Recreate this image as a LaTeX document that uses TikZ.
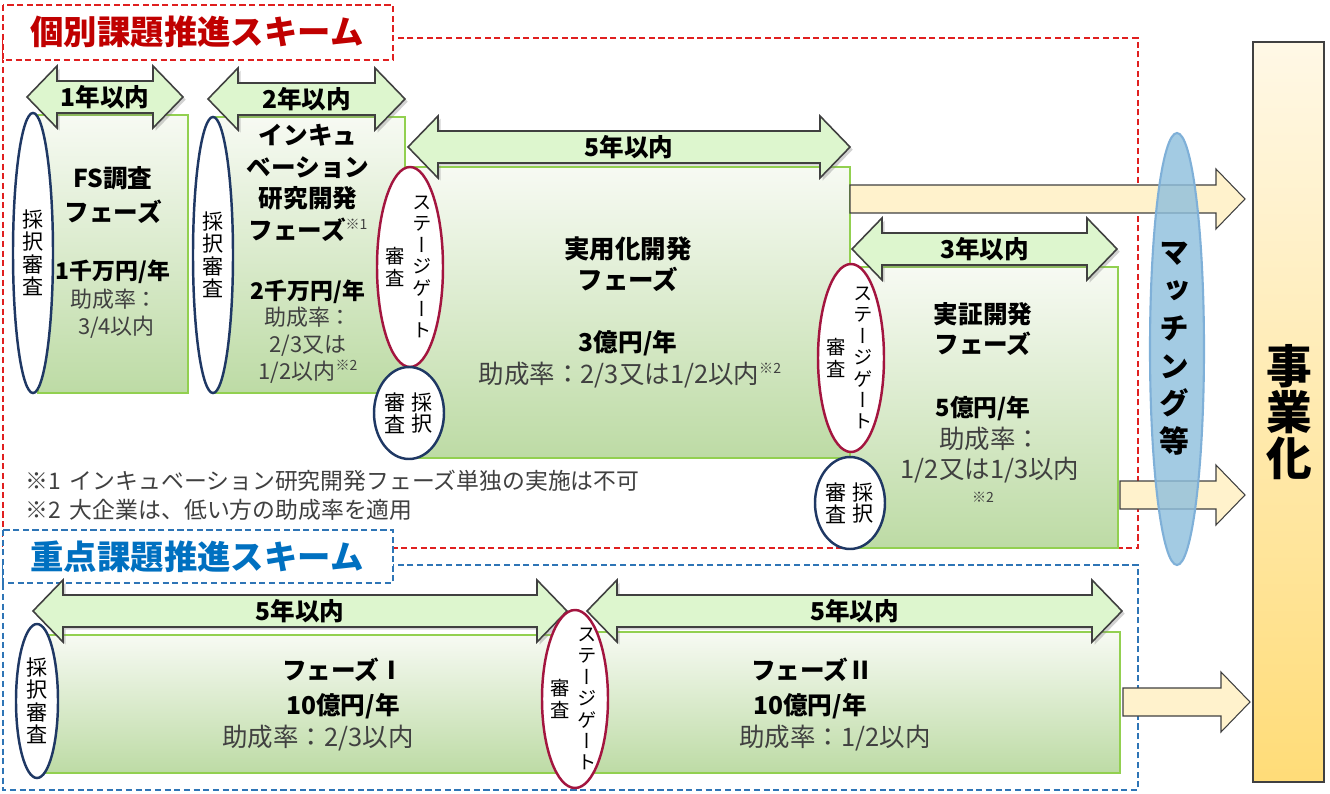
\documentclass[tikz,border=0pt]{standalone}
\usepackage{fontspec}
\setmainfont{Noto Sans CJK JP}
\newfontfamily\vfont[RawFeature=+vert]{Noto Sans CJK JP}
\usetikzlibrary{shadows}

\definecolor{redline}{HTML}{E02020}
\definecolor{redtitle}{HTML}{C00000}
\definecolor{blueline}{HTML}{2E75B6}
\definecolor{bluetitle}{HTML}{0070C0}
\definecolor{boxtop}{HTML}{F7FAF3}
\definecolor{boxbot}{HTML}{BDDBA5}
\definecolor{boxedge}{HTML}{92D050}
\definecolor{arrfill}{HTML}{DDF6CE}
\definecolor{arredge}{HTML}{404040}
\definecolor{yelfill}{HTML}{FFF2CC}
\definecolor{gatecol}{HTML}{A3153F}
\definecolor{admitcol}{HTML}{1F3864}
\definecolor{matchcol}{HTML}{8DBEDD}
\definecolor{matchedge}{HTML}{7FB0D8}
\definecolor{ratecol}{HTML}{404040}
\definecolor{bizTop}{HTML}{FFF8E6}
\definecolor{bizBot}{HTML}{FFDC78}

\newcommand{\notemark}[1]{\raisebox{0.75ex}{\fontsize{8}{8}\selectfont\mdseries\color{ratecol}#1}}

\tikzset{
  scheme/.style={dash pattern=on 3.5pt off 2pt, line width=0.7pt},
  phasebox/.style={draw=boxedge, line width=1.2pt, top color=boxtop, bottom color=boxbot},
  spanarrow/.style={draw=arredge, line width=0.9pt, fill=arrfill,
    drop shadow={opacity=0.35, shadow xshift=1.5pt, shadow yshift=-1.5pt}},
  flowarrow/.style={draw=arredge, line width=0.6pt, fill=yelfill},
  gate/.style={draw=gatecol, line width=1.4pt, fill=white},
  admit/.style={draw=admitcol, line width=1.4pt, fill=white},
  vlabel/.style={align=center, inner sep=0pt, font=\vfont\fontsize{11}{12.2}\selectfont},
  spanlabel/.style={inner sep=0pt, font=\bfseries\fontsize{14}{16}\selectfont},
  phasetitle/.style={align=center, inner sep=0pt, font=\bfseries\fontsize{14}{19}\selectfont},
  amount/.style={inner sep=0pt, font=\bfseries\fontsize{13}{15}\selectfont},
  rate/.style={align=center, inner sep=0pt, text=ratecol, font=\fontsize{12.5}{15.3}\selectfont},
  note/.style={anchor=west, inner sep=0pt, text=ratecol, font=\fontsize{13}{15}\selectfont}
}

\begin{document}
\begin{tikzpicture}[x=0.02cm, y=-0.02cm]
  \useasboundingbox[fill=white] (0,0) rectangle (1330,794);

  % scheme frames
  \draw[scheme, redline] (3,38) rectangle (1138,548);
  \draw[scheme, blueline] (3,565) rectangle (1138,790);
  \draw[scheme, redline, fill=white] (3,5) rectangle (393,60);
  \draw[scheme, blueline, fill=white] (3,530) rectangle (393,583);
  \node[text=redtitle, font=\bfseries\fontsize{19}{21}\selectfont] (titleA) at (197,32) {個別課題推進スキーム};
  \node[text=bluetitle, font=\bfseries\fontsize{19}{21}\selectfont] (titleB) at (197,557) {重点課題推進スキーム};

  % phase boxes
  \draw[phasebox] (38,115) rectangle (188,393);
  \draw[phasebox] (213,117) rectangle (405,393);
  \draw[phasebox] (405,167) rectangle (850,458);
  \draw[phasebox] (850,267) rectangle (1118,548);
  \draw[phasebox] (38,635) rectangle (580,773);
  \draw[phasebox] (580,632) rectangle (1120,773);

  % period arrows
  \foreach \xa/\xb/\yc/\lab [count=\i] in {27/183/97/1年以内, 208/405/99/2年以内,
      408/850/147/5年以内, 852/1117/249/3年以内, 33/567/611/5年以内, 587/1122/611/5年以内}{
    \draw[spanarrow] (\xa,\yc) -- (\xa+30,\yc-31) -- (\xa+30,\yc-16) -- (\xb-30,\yc-16)
      -- (\xb-30,\yc-31) -- (\xb,\yc) -- (\xb-30,\yc+31) -- (\xb-30,\yc+16)
      -- (\xa+30,\yc+16) -- (\xa+30,\yc+31) -- cycle;
    \node[spanlabel] (span\i) at ({(\xa+\xb)/2},\yc) {\lab};
  }

  % arrows to business
  \foreach \xa/\xb/\yc in {850/1245/199, 1120/1245/495, 1123/1250/702}{
    \draw[flowarrow] (\xa,\yc-14) -- (\xb-29,\yc-14) -- (\xb-29,\yc-30) -- (\xb,\yc)
      -- (\xb-29,\yc+30) -- (\xb-29,\yc+14) -- (\xa,\yc+14) -- cycle;
  }

  % texts in phase boxes
  \node[phasetitle] (fsT) at (113,195) {FS調査\\フェーズ};
  \node[amount] (fsA) at (113,272) {1千万円/年};
  \node[rate] (fsR) at (114,314) {助成率：\\\ 3/4以内};

  \node[phasetitle, font=\bfseries\fontsize{14}{18}\selectfont] (incT) at (308,183)
    {インキュ\\ベーション\\研究開発\\フェーズ\notemark{※1}};
  \node[amount] (incA) at (308,292) {2千万円/年};
  \node[rate] (incR) at (308,345) {助成率：\\2/3又は\\1/2以内\notemark{※2}};

  \node[phasetitle, font=\bfseries\fontsize{14.5}{18}\selectfont] (pracT) at (628,264) {実用化開発\\フェーズ};
  \node[amount, font=\bfseries\fontsize{14}{15}\selectfont] (pracA) at (628,343) {3億円/年};
  \node[rate, font=\fontsize{14.5}{15}\selectfont] (pracR) at (630,375) {助成率：2/3又は1/2以内\notemark{※2}};

  \node[phasetitle, font=\bfseries\fontsize{14}{17.5}\selectfont] (demoT) at (983,329) {実証開発\\フェーズ};
  \node[amount, font=\bfseries\fontsize{13.5}{15}\selectfont] (demoA) at (983,408) {5億円/年};
  \node[rate, font=\fontsize{14.5}{17}\selectfont] (demoR) at (990,455) {助成率：\\1/2又は1/3以内};
  \node[text=ratecol, inner sep=0pt, font=\fontsize{8}{8}\selectfont] (demoN) at (983,497) {※2};

  \node[amount, font=\bfseries\fontsize{14}{15}\selectfont] (p1T) at (343,670) {フェーズⅠ};
  \node[amount, font=\bfseries\fontsize{14}{15}\selectfont] (p1A) at (343,706) {10億円/年};
  \node[rate, font=\fontsize{14.5}{15}\selectfont] (p1R) at (318,738) {助成率：2/3以内};

  \node[amount, font=\bfseries\fontsize{14}{15}\selectfont] (p2T) at (812,670) {フェーズⅡ};
  \node[amount, font=\bfseries\fontsize{14}{15}\selectfont] (p2A) at (810,706) {10億円/年};
  \node[rate, font=\fontsize{14.5}{15}\selectfont] (p2R) at (835,738) {助成率：1/2以内};

  % notes
  \node[note] (noteA) at (25,481) {※1\hspace{0.4em}インキュベーション研究開発フェーズ単独の実施は不可};
  \node[note] (noteB) at (25,510) {※2\hspace{0.4em}大企業は、低い方の助成率を適用};

  % review ovals
  \draw[admit] (33,253) ellipse [x radius=20, y radius=140];
  \node[vlabel, font=\vfont\fontsize{12}{12.8}\selectfont] (adm1) at (33,253) {採\\択\\審\\査};
  \draw[admit] (213,255) ellipse [x radius=20, y radius=138];
  \node[vlabel, font=\vfont\fontsize{12}{12.8}\selectfont] (adm2) at (213,255) {採\\択\\審\\査};
  \draw[admit] (37,701) ellipse [x radius=21, y radius=77];
  \node[vlabel, font=\vfont\fontsize{12}{12.8}\selectfont] (adm3) at (37,701) {採\\択\\審\\査};

  \foreach \cx/\cy/\ry [count=\i] in {410/267/100, 851/358/94, 575/699/89}{
    \draw[gate] (\cx,\cy) ellipse [x radius=33, y radius=\ry];
    \node[vlabel] (gateR\i) at (\cx+12,\cy) {ス\\テ\\ー\\ジ\\ゲ\\ー\\ト};
    \node[vlabel] (gateL\i) at (\cx-15,\cy) {審\\査};
  }

  \foreach \cx/\cy [count=\i] in {409/413, 850/503}{
    \draw[admit] (\cx,\cy) ellipse [x radius=35, y radius=46];
    \node[vlabel, font=\vfont\fontsize{12}{12.5}\selectfont] (admR\i) at (\cx+13,\cy) {採\\択};
    \node[vlabel, font=\vfont\fontsize{12}{12.5}\selectfont] (admL\i) at (\cx-14,\cy) {審\\査};
  }

  % matching and business
  \draw[draw=matchedge, line width=1.2pt, fill=matchcol, fill opacity=0.8] (1177,349) ellipse [x radius=27, y radius=216];
  \node[vlabel, font=\vfont\bfseries\fontsize{17}{21.5}\selectfont] (match) at (1174,349) {マ\\ッ\\チ\\ン\\グ\\等};
  \draw[draw=arredge, line width=1.5pt, top color=bizTop, bottom color=bizBot] (1253,42) rectangle (1324,782);
  \node[vlabel, font=\vfont\bfseries\fontsize{26}{26}\selectfont] (biz) at (1289,412) {事\\業\\化};
\end{tikzpicture}
\end{document}
